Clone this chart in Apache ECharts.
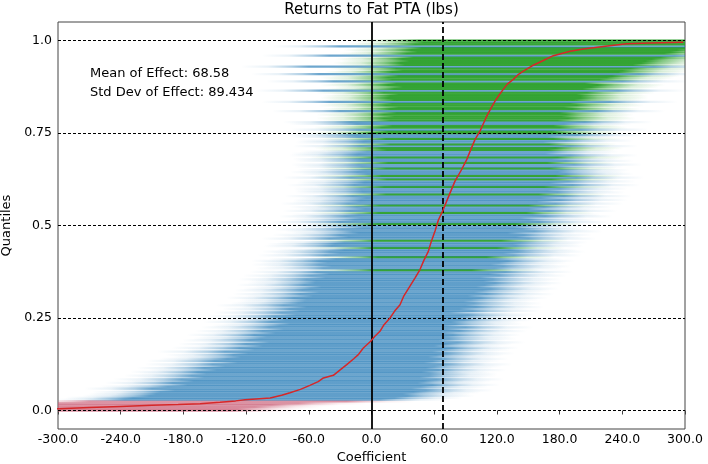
<!DOCTYPE html>
<html>
<head>
<meta charset="utf-8">
<title>Returns to Fat PTA (lbs)</title>
<script src="https://cdn.jsdelivr.net/npm/echarts@6/dist/echarts.min.js"></script>
<style>
  html, body { margin: 0; padding: 0; background: #fff; }
  #chart { width: 708px; height: 464px; }
</style>
</head>
<body>
<div id="chart"></div>
<script>
// Summary statistics of the estimated effect
const meanEffect = 68.58;
const stdEffect = 89.434;

// Sorted effect estimates: quantile rank and coefficient
const curveQuantile = [0.003, 0.005, 0.008, 0.011, 0.014, 0.016, 0.018, 0.022, 0.026, 0.029, 0.034, 0.041,
  0.048, 0.057, 0.068, 0.078, 0.088, 0.095, 0.110, 0.124, 0.140, 0.151, 0.169, 0.187, 0.200, 0.214,
  0.232, 0.250, 0.268, 0.286, 0.310, 0.336, 0.360, 0.381, 0.405, 0.430, 0.455, 0.485, 0.515, 0.543,
  0.580, 0.620, 0.650, 0.678, 0.705, 0.732, 0.755, 0.775, 0.795, 0.815, 0.836, 0.852, 0.868, 0.882,
  0.895, 0.907, 0.917, 0.931, 0.944, 0.959, 0.971, 0.977, 0.984, 0.991, 0.993, 0.995];
const curveEffect = [-330, -299, -270, -240, -210, -185, -164, -145, -130, -121, -97, -86,
  -78, -68, -59, -51, -46, -36.5, -30, -23.7, -17, -12.6, -7.8, -0.8, 3, 8.1,
  12, 17.7, 22, 27.3, 31, 36.8, 42, 46.4, 50, 54.4, 57, 60.8, 64, 68.7,
  74, 79.9, 86, 91.1, 95, 99, 103.8, 107, 110.2, 114, 118.2, 122, 126.1, 130,
  135.7, 140, 145.3, 153.3, 162.9, 174, 190, 202.8, 221.9, 244.3, 266.8, 298.4];

// Interval bounds for each quantile row (evenly spaced ranks from 0 to 1)
const rowLow = [
  -345, -338, -322, -318, -300, -270, -236, -228, -212, -206,
  -202, -188, -210, -195, -176, -190, -170, -182, -160, -172,
  -158, -166, -148, -160, -140, -152, -128, -150, -138, -125,
  -132, -118, -140, -112, -126, -104, -120, -98, -116, -106,
  -100, -112, -92, -104, -84, -98, -88, -78, -96, -82,
  -80, -92, -72, -86, -68, -78, -62, -84, -70, -64,
  -62, -74, -56, -68, -50, -66, -58, -48, -64, -54,
  -53, -62, -44, -58, -40, -52, 4, -46, -38, -50,
  -42, -50, -34, 6, -44, -30, -40, -26, 3, -38,
  -35, -26, 5, -40, -22, -30, -12, -18, -28, -8,
  -22, 6, -30, -16, -10, -24, -12, 7, -20, -6,
  -14, 8, -22, -11, -10, -5, -18, 14, -8, -9,
  -10, 12, -16, -7, -6, 15, -20, 10, -4, -13,
  -6, 14, -9, -12, 16, -8, -11, 6, -14, -12,
  -4, 15, 10, -10, 18, -8, -6, 14, -12, -16,
  4, 16, -12, 10, 20, -14, -20, 18, 12, 22,
  12, 24, -30, 18, 26, 14, 20, -40, 22, 16,
  18, 26, 12, -46, 22, 30, 16, 24, -36, 20,
  16, 26, -50, 20, 30, 24, -60, 32, 28, 36,
  30, 40, -40, 34, 44, 38, 48, -30, 42, 50,
  45];
const rowHigh = [
  -135, -128, -112, -96, -70, -24, 8, 22, 34, 30,
  40, 52, 38, 47, 58, 44, 50, 62, 46, 55,
  56, 48, 64, 52, 60, 70, 50, 58, 66, 54,
  62, 72, 58, 68, 76, 60, 70, 82, 64, 74,
  70, 78, 66, 84, 72, 90, 68, 80, 76, 88,
  78, 86, 92, 74, 96, 84, 100, 90, 98, 88,
  95, 104, 92, 110, 98, 106, 114, 100, 108, 118,
  107, 116, 104, 122, 112, 128, 96, 118, 126, 114,
  122, 130, 118, 110, 136, 126, 140, 132, 120, 138,
  135, 142, 124, 150, 138, 146, 130, 156, 144, 136,
  145, 138, 160, 150, 142, 166, 154, 148, 170, 150,
  165, 150, 176, 158, 180, 162, 184, 160, 178, 168,
  180, 165, 192, 170, 188, 172, 196, 176, 186, 178,
  182, 170, 176, 194, 168, 186, 172, 178, 190, 166,
  172, 168, 176, 190, 170, 164, 186, 174, 168, 196,
  176, 172, 200, 180, 174, 184, 204, 178, 188, 182,
  186, 180, 216, 192, 184, 196, 190, 228, 194, 200,
  200, 196, 206, 236, 202, 210, 216, 204, 240, 218,
  225, 230, 256, 236, 240, 248, 270, 250, 258, 262,
  268, 276, 290, 280, 286, 292, 300, 310, 306, 316,
  320];

// Axis ticks
const xTicks = [-300, -240, -180, -120, -60, 0, 60, 120, 180, 240, 300];
const yTicks = [0, 0.25, 0.5, 0.75, 1.0];

// Drawing constants
const FADE = 65;                       // width of the soft edge on each side, in coefficient units
const HALF = 0.5 / (rowLow.length - 1); // half the height of one row, in quantile units
const BLUE = [31, 119, 180, 0.65];
const GREEN = [44, 160, 44, 0.95];
const RED = [200, 90, 115, 0.65];
const FONT = 'DejaVu Sans';

const rows = rowLow.map((lo, i) => [lo, rowHigh[i], i / (rowLow.length - 1)]);

function renderRow(params, api) {
  const lo = api.value(0), hi = api.value(1), q = api.value(2);
  const pA = api.coord([lo - FADE, q + HALF]);
  const pB = api.coord([hi + FADE, q - HALF]);
  const x0 = pA[0], x1 = pB[0];
  const w = x1 - x0;
  const fadePx = api.coord([FADE, 0])[0] - api.coord([0, 0])[0];
  const f = Math.min(0.5, fadePx / w);
  const base = lo > 0 ? GREEN : (hi < 0 ? RED : BLUE);
  const c = a => `rgba(${base[0]},${base[1]},${base[2]},${(base[3] * a).toFixed(3)})`;
  const grad = new echarts.graphic.LinearGradient(x0, 0, x1, 0, [
    { offset: 0, color: c(0) },
    { offset: f * 0.4, color: c(0.15) },
    { offset: f * 0.75, color: c(0.55) },
    { offset: f, color: c(1) },
    { offset: 1 - f, color: c(1) },
    { offset: 1 - f * 0.75, color: c(0.55) },
    { offset: 1 - f * 0.4, color: c(0.15) },
    { offset: 1, color: c(0) }
  ], true);
  const cs = params.coordSys;
  const shape = echarts.graphic.clipRectByRect(
    { x: x0, y: pA[1], width: w, height: pB[1] - pA[1] + 0.4 },
    { x: cs.x, y: cs.y, width: cs.width, height: cs.height }
  );
  if (!shape) return null;
  return { type: 'rect', shape: shape, style: { fill: grad } };
}

const chart = echarts.init(document.getElementById('chart'), null, { renderer: 'canvas' });

chart.setOption({
  animation: false,
  backgroundColor: '#ffffff',
  textStyle: { fontFamily: FONT },
  title: {
    text: 'Returns to Fat PTA (lbs)',
    left: 371.5,
    textAlign: 'center',
    top: 3,
    padding: 0,
    textStyle: { fontFamily: FONT, fontSize: 15, fontWeight: 'normal', color: '#000' }
  },
  grid: {
    left: 58, right: 23, top: 22, bottom: 35,
    containLabel: false,
    outerBoundsMode: 'none',
    show: true, borderColor: '#444', borderWidth: 1, backgroundColor: 'transparent'
  },
  xAxis: {
    type: 'value',
    min: xTicks[0], max: xTicks[xTicks.length - 1], interval: 60,
    name: 'Coefficient', nameLocation: 'middle', nameGap: 21,
    nameTextStyle: { fontFamily: FONT, fontSize: 13, color: '#000' },
    axisLine: { show: false },
    axisTick: { show: true, inside: false, length: 4, lineStyle: { color: '#444', width: 1 } },
    axisLabel: { margin: 4, fontFamily: FONT, fontSize: 12.5, color: '#000',
      formatter: v => v.toFixed(1) },
    splitLine: { show: false }
  },
  yAxis: {
    type: 'value',
    min: -0.05, max: 1.05,
    name: 'Quantiles', nameLocation: 'middle', nameGap: 38,
    nameTextStyle: { fontFamily: FONT, fontSize: 13, color: '#000' },
    axisLine: { show: false },
    axisTick: { show: true, inside: false, length: 4, customValues: yTicks, lineStyle: { color: '#444', width: 1 } },
    axisLabel: { margin: 6, fontFamily: FONT, fontSize: 12.5, color: '#000', customValues: yTicks,
      formatter: v => (Number.isInteger(v) ? v.toFixed(1) : String(v)) },
    splitLine: { show: false }
  },
  graphic: [
    { type: 'text', left: 90, top: 67, z: 100,
      style: { text: 'Mean of Effect: ' + meanEffect, font: '13px "DejaVu Sans"', fill: '#000' } },
    { type: 'text', left: 90, top: 86, z: 100,
      style: { text: 'Std Dev of Effect: ' + stdEffect, font: '13px "DejaVu Sans"', fill: '#000' } }
  ],
  series: [
    {
      type: 'custom',
      name: 'intervals',
      renderItem: renderRow,
      encode: { x: [0, 1], y: 2 },
      data: rows,
      z: 1,
      silent: true
    },
    {
      type: 'line',
      name: 'reference lines',
      data: [],
      z: 3,
      silent: true,
      markLine: {
        silent: true,
        symbol: ['none', 'none'],
        label: { show: false },
        animation: false,
        data: [
          ...yTicks.map(v => ({ yAxis: v, lineStyle: { color: '#000', width: 1, type: [3, 2] } })),
          { xAxis: 0, lineStyle: { color: '#000', width: 1.8, type: 'solid' } },
          { xAxis: meanEffect, lineStyle: { color: '#000', width: 1.8, type: [6, 3] } }
        ]
      }
    },
    {
      type: 'line',
      name: 'effect',
      data: curveEffect.map((x, i) => [x, curveQuantile[i]]),
      showSymbol: false,
      symbol: 'none',
      clip: true,
      z: 5,
      lineStyle: { color: '#d62728', width: 1.5 },
      silent: true
    }
  ]
});
</script>
</body>
</html>
